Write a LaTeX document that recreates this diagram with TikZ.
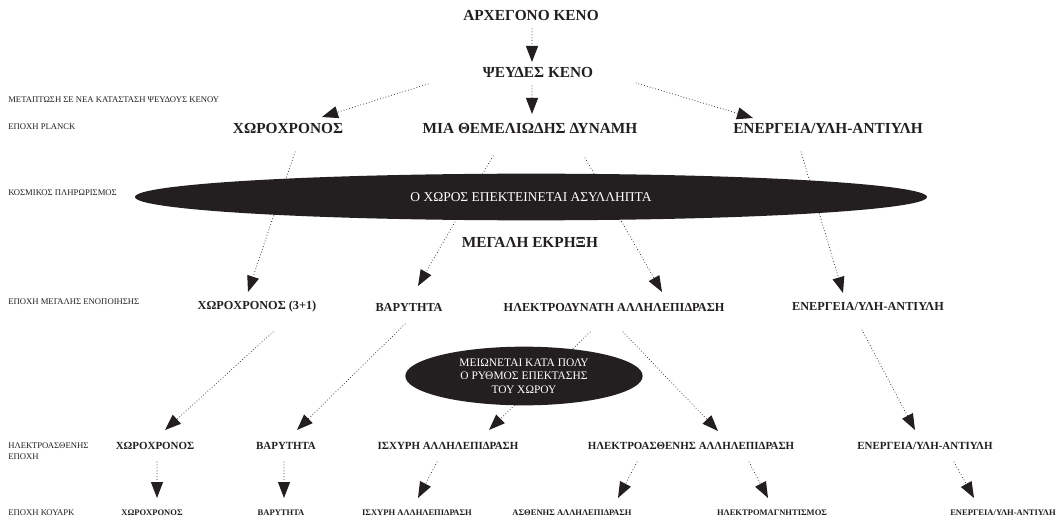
\documentclass[tikz,border=0pt]{standalone}
\usepackage{fontspec}
\setmainfont{Liberation Serif}
\usetikzlibrary{arrows.meta,shapes.geometric}
\definecolor{ink}{HTML}{231F20}
\begin{document}
\begin{tikzpicture}[x=0.75pt,y=-0.75pt,
  every node/.style={inner sep=0pt,text=ink},
  lvA/.style={font=\bfseries\fontsize{11.5}{13}\selectfont},
  lvB/.style={font=\bfseries\fontsize{9.2}{11}\selectfont},
  lvC/.style={font=\bfseries\fontsize{8.2}{10}\selectfont},
  lvD/.style={font=\bfseries\fontsize{6.4}{8}\selectfont},
  side/.style={font=\fontsize{6.5}{8.2}\selectfont,anchor=west,align=left},
  conn/.style={draw=ink,line width=0.75pt,line cap=round,dash pattern=on 0pt off 2.2pt,
    -{Triangle[length=12pt,width=9pt,fill=ink]}},
  blob/.style={ellipse,fill=ink,text=white,inner sep=0pt}
]
\fill[white] (0,0) rectangle (1063,520);
\useasboundingbox (0,0) rectangle (1063,520);

% side labels
\node[side] (sA) at (8,100) {ΜΕΤΑΠΤΩΣΗ ΣΕ ΝΕΑ ΚΑΤΑΣΤΑΣΗ ΨΕΥΔΟΥΣ ΚΕΝΟΥ};
\node[side] (sB) at (8,127) {ΕΠΟΧΗ PLANCK};
\node[side] (sC) at (8,193) {ΚΟΣΜΙΚΟΣ ΠΛΗΡΩΡΙΣΜΟΣ};
\node[side] (sD) at (8,302) {ΕΠΟΧΗ ΜΕΓΑΛΗΣ ΕΝΟΠΟΙΗΣΗΣ};
\node[side] (sE) at (8,451) {ΗΛΕΚΤΡΟΑΣΘΕΝΗΣ\\ΕΠΟΧΗ};
\node[side] (sF) at (8,513) {ΕΠΟΧΗ ΚΟΥΑΡΚ};

% main nodes
\node[lvA] (t0) at (531,16) {ΑΡΧΕΓΟΝΟ ΚΕΝΟ};
\node[lvA] (t1) at (538,73) {ΨΕΥΔΕΣ ΚΕΝΟ};
\node[lvA] (c2) at (288,129) {ΧΩΡΟΧΡΟΝΟΣ};
\node[lvA] (f2) at (530,129) {ΜΙΑ ΘΕΜΕΛΙΩΔΗΣ ΔΥΝΑΜΗ};
\node[lvA] (e2) at (828,129) {ΕΝΕΡΓΕΙΑ/ΥΛΗ-ΑΝΤΙΥΛΗ};
\node[lvA] (bb) at (530,242) {ΜΕΓΑΛΗ ΕΚΡΗΞΗ};

\node[lvB] (c3) at (257,307) {ΧΩΡΟΧΡΟΝΟΣ (3+1)};
\node[lvB] (g3) at (409,307) {ΒΑΡΥΤΗΤΑ};
\node[lvB] (h3) at (614,307) {ΗΛΕΚΤΡΟΔΥΝΑΤΗ ΑΛΛΗΛΕΠΙΔΡΑΣΗ};
\node[lvB] (e3) at (868,307) {ΕΝΕΡΓΕΙΑ/ΥΛΗ-ΑΝΤΙΥΛΗ};

\node[lvC] (c4) at (155,446) {ΧΩΡΟΧΡΟΝΟΣ};
\node[lvC] (g4) at (286,446) {ΒΑΡΥΤΗΤΑ};
\node[lvC] (s4) at (448,446) {ΙΣΧΥΡΗ ΑΛΛΗΛΕΠΙΔΡΑΣΗ};
\node[lvC] (w4) at (691,446) {ΗΛΕΚΤΡΟΑΣΘΕΝΗΣ ΑΛΛΗΛΕΠΙΔΡΑΣΗ};
\node[lvC] (e4) at (925,446) {ΕΝΕΡΓΕΙΑ/ΥΛΗ-ΑΝΤΙΥΛΗ};

\node[lvD] (c5) at (152,513) {ΧΩΡΟΧΡΟΝΟΣ};
\node[lvD] (g5) at (281,513) {ΒΑΡΥΤΗΤΑ};
\node[lvD] (s5) at (417,513) {ΙΣΧΥΡΗ ΑΛΛΗΛΕΠΙΔΡΑΣΗ};
\node[lvD] (a5) at (572,513) {ΑΣΘΕΝΗΣ ΑΛΛΗΛΕΠΙΔΡΑΣΗ};
\node[lvD] (m5) at (772,513) {ΗΛΕΚΤΡΟΜΑΓΝΗΤΙΣΜΟΣ};
\node[lvD] (e5) at (1003,513) {ΕΝΕΡΓΕΙΑ/ΥΛΗ-ΑΝΤΙΥΛΗ};

% connector end points
\coordinate (t0o) at (532,29);   \coordinate (t1i) at (532,62);
\coordinate (t1o) at (532,86);   \coordinate (f2i) at (532,114);
\coordinate (t1l) at (428,84);   \coordinate (c2i) at (322,117);
\coordinate (t1r) at (636,83);   \coordinate (e2i) at (753,118);
\coordinate (c2o) at (295,152);  \coordinate (c3i) at (248,292);
\coordinate (f2l) at (493,156);  \coordinate (g3i) at (418,286);
\coordinate (f2r) at (585,158);  \coordinate (h3i) at (662,292);
\coordinate (e2o) at (801,152);  \coordinate (e3i) at (843,293);
\coordinate (c3o) at (273,332);  \coordinate (c4i) at (165,430);
\coordinate (g3o) at (405,324);  \coordinate (g4i) at (297,430);
\coordinate (h3l) at (590,332);  \coordinate (s4i) at (489,430);
\coordinate (h3r) at (623,332);  \coordinate (w4i) at (718,431);
\coordinate (e3o) at (862,330);  \coordinate (e4i) at (915,430);
\coordinate (c4o) at (157,462);  \coordinate (c5i) at (157,498);
\coordinate (g4o) at (284,462);  \coordinate (g5i) at (284,498);
\coordinate (s4o) at (437,462);  \coordinate (s5i) at (418,498);
\coordinate (w4l) at (637,462);  \coordinate (a5i) at (618,498);
\coordinate (w4r) at (749,462);  \coordinate (m5i) at (768,498);
\coordinate (e4o) at (954,462);  \coordinate (e5i) at (974,498);

% connectors
\draw[conn] (t0o) -- (t1i);
\draw[conn] (t1o) -- (f2i);
\draw[conn] (t1l) -- (c2i);
\draw[conn] (t1r) -- (e2i);
\draw[conn] (c2o) -- (c3i);
\draw[conn] (f2l) -- (g3i);
\draw[conn] (f2r) -- (h3i);
\draw[conn] (e2o) -- (e3i);
\draw[conn] (c3o) -- (c4i);
\draw[conn] (g3o) -- (g4i);
\draw[conn] (h3l) -- (s4i);
\draw[conn] (h3r) -- (w4i);
\draw[conn] (e3o) -- (e4i);
\draw[conn] (c4o) -- (c5i);
\draw[conn] (g4o) -- (g5i);
\draw[conn] (s4o) -- (s5i);
\draw[conn] (w4l) -- (a5i);
\draw[conn] (w4r) -- (m5i);
\draw[conn] (e4o) -- (e5i);

% ellipses drawn over the connectors
\node[blob,minimum width=594pt,minimum height=35pt,font=\fontsize{10.1}{12}\selectfont]
  (infl) at (531,197) {\raisebox{-1pt}{Ο ΧΩΡΟΣ ΕΠΕΚΤΕΙΝΕΤΑΙ ΑΣΥΛΛΗΠΤΑ}};
\node[blob,minimum width=178pt,minimum height=44pt,align=center,font=\fontsize{8.6}{10}\selectfont]
  (slow) at (524,376) {ΜΕΙΩΝΕΤΑΙ ΚΑΤΑ ΠΟΛΥ\\Ο ΡΥΘΜΟΣ ΕΠΕΚΤΑΣΗΣ\\ΤΟΥ ΧΩΡΟΥ};
\end{tikzpicture}
\end{document}
